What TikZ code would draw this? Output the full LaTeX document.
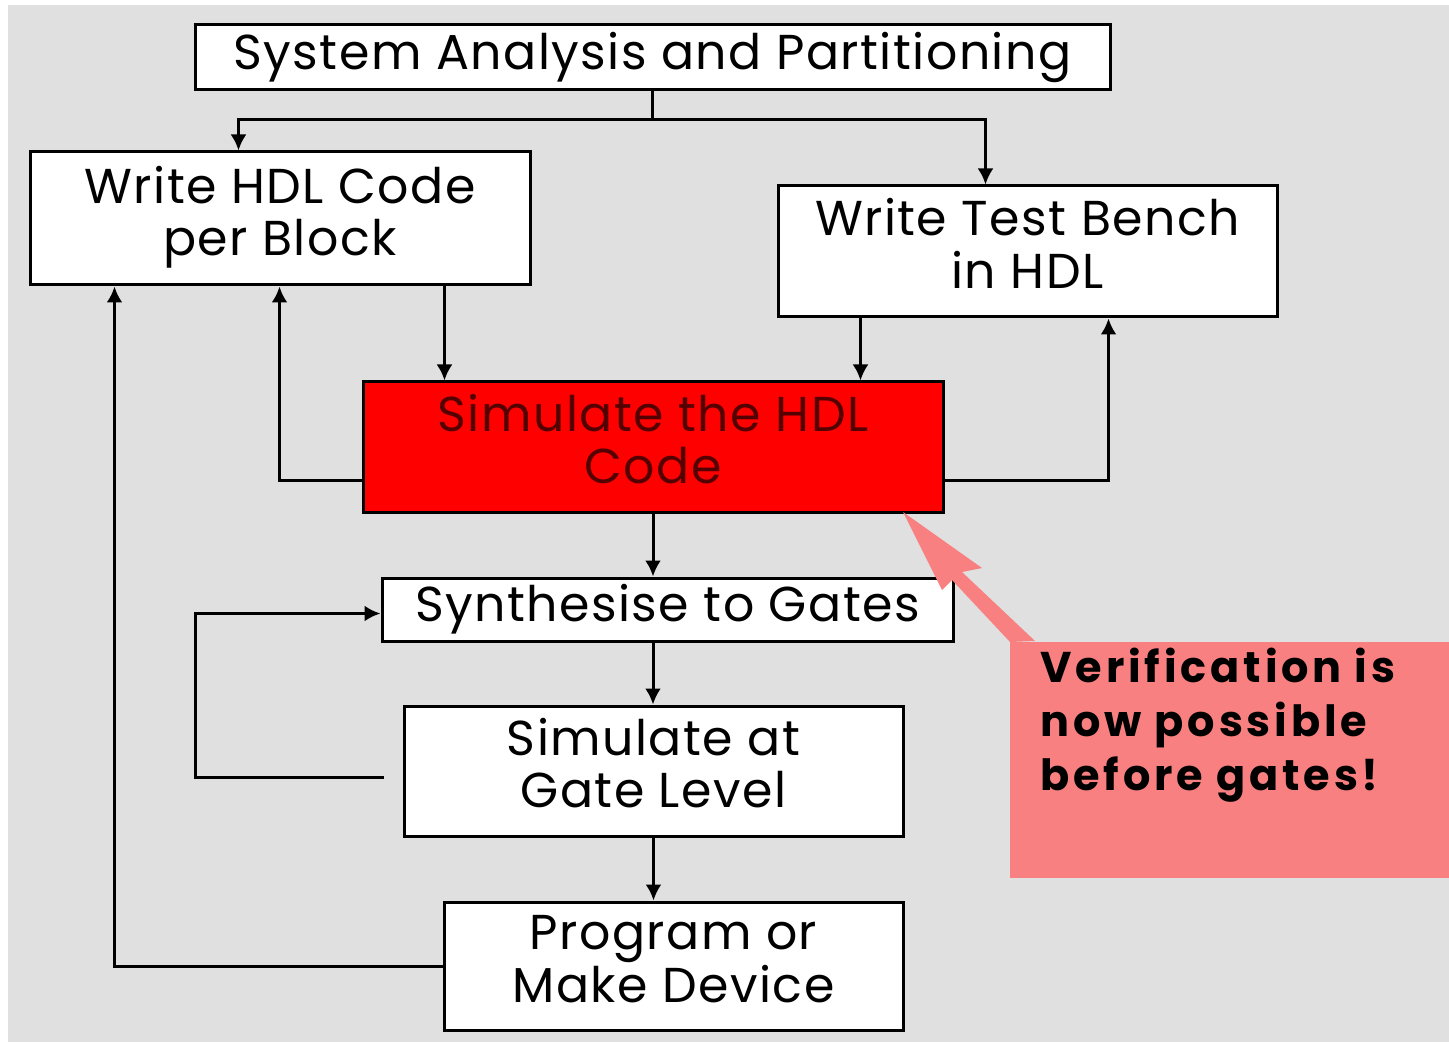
\documentclass[tikz,border=0pt]{standalone}
\usepackage{fontspec}
\setmainfont{Poppins}
\newfontfamily\boxfont{Poppins}[LetterSpace=3]
\newfontfamily\notefont{Poppins}[LetterSpace=9]
\usetikzlibrary{arrows.meta}

\definecolor{bggray}{RGB}{224,224,224}
\definecolor{notered}{RGB}{248,128,128}
\definecolor{darkred}{RGB}{85,0,0}

% lift two-line box text a little
\newcommand{\lift}[1]{\raisebox{5pt}{\begin{tabular}{@{}c@{}}#1\end{tabular}}}

\tikzset{
  box/.style = {draw, line width=1.5pt, fill=white, inner sep=0pt, align=center,
                font=\boxfont\fontsize{24.5}{26}\selectfont},
  flow/.style = {line width=1.5pt, -{Latex[length=8pt,width=8pt]}},
  wire/.style = {line width=1.5pt}
}

\begin{document}
\begin{tikzpicture}[x=0.5pt, y=-0.5pt]
    \useasboundingbox[fill=white] (0,0) rectangle (1449,1042);
    \fill[bggray] (8,5) rectangle (1449,1042);

    % the flow boxes
    \node[box, minimum width=457.5pt, minimum height=32.5pt] (sys) at (652.5,57.5) {\raisebox{1.5pt}{System Analysis and Partitioning}};
    \node[box, minimum width=250pt, minimum height=66.5pt] (hdl) at (280,218.5) {\lift{Write HDL Code\\per Block}};
    \node[box, minimum width=249.5pt, minimum height=65.5pt] (tb) at (1027.5,251.5) {\lift{Write Test Bench\\in HDL}};
    \node[box, fill=red, text=darkred, minimum width=290pt, minimum height=65pt] (sim) at (653,447) {\lift{Simulate the HDL\\Code}};
    \node[box, minimum width=285.5pt, minimum height=31.5pt] (syn) at (667.5,609.5) {Synthesise to Gates};
    \node[box, minimum width=249.5pt, minimum height=65pt] (gate) at (653.5,771) {\lift{Simulate at\\Gate Level}};
    \node[box, minimum width=229.5pt, minimum height=64pt] (prog) at (673.5,966) {\lift{Program or\\Make Device}};

    % callout
    \fill[notered] (903,512) -- (982,568) -- (962,572) -- (1035,641) -- (1010,642) -- (952,580) -- (942,590) -- cycle;
    \node[fill=notered, minimum width=219.5pt, minimum height=118pt, inner sep=0pt] (note) at (1229.5,760) {};
    \node[anchor=north west, align=left, inner sep=0pt, font=\notefont\fontsize{21.5}{27}\selectfont\bfseries] (notetext) at (1040,648) {Verification is\\now possible\\before gates!};

    % ports
    \coordinate (fork) at (652.5,120);
    \coordinate (h1) at ([xshift=105pt]hdl.north west);
    \coordinate (t1) at ([xshift=104.5pt]tb.north west);
    \coordinate (h2) at ([xshift=208pt]hdl.south west);
    \coordinate (h3) at ([xshift=125.5pt]hdl.south west);
    \coordinate (h4) at ([xshift=43pt]hdl.south west);
    \coordinate (t2) at ([xshift=42pt]tb.south west);
    \coordinate (t3) at ([xshift=166pt]tb.south west);
    \coordinate (s1) at ([yshift=-16.5pt]sim.west);
    \coordinate (s2) at ([yshift=-16.5pt]sim.east);
    \coordinate (g1) at ([xshift=-9.5pt,yshift=-3pt]gate.west);
    \coordinate (y1) at ([yshift=-2pt]syn.west);
    \coordinate (loop) at (195,777);

    % connectors
    \draw[wire] (sys.south) -- (fork);
    \draw[flow] (fork) -| (h1);
    \draw[flow] (fork) -| (t1);
    \draw[flow] (h2) -- (h2 |- sim.north);
    \draw[flow] (t2) -- (t2 |- sim.north);
    \draw[flow] (s1) -| (h3);
    \draw[flow] (s2) -| (t3);
    \draw[flow] (sim.south) -- (sim.south |- syn.north);
    \draw[flow] (sim.south |- syn.south) -- (sim.south |- gate.north);
    \draw[flow] (gate.south) -- (gate.south |- prog.north);
    \draw[flow] (g1) -- (loop) |- (y1);
    \draw[flow] (prog.west) -| (h4);
\end{tikzpicture}
\end{document}
